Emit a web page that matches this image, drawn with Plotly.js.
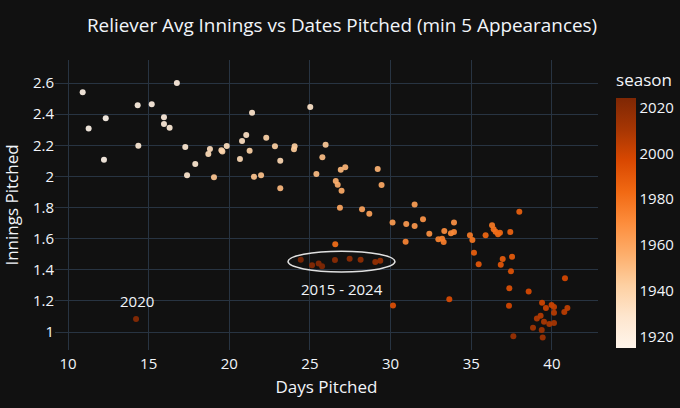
<!DOCTYPE html>
<html>
<head>
<meta charset="utf-8">
<script src="https://cdn.plot.ly/plotly-3.0.1.min.js"></script>
<style>
  html, body { margin: 0; padding: 0; background: #111111; }
  #chart { width: 680px; height: 408px; }
</style>
</head>
<body>
<div id="chart"></div>
<script>
// One point per season: average innings per relief appearance vs. days pitched
const seasons = [
  1915, 1916, 1917, 1918, 1919, 1920, 1921, 1922, 1923, 1924, 1925, 1926, 1927, 1928, 1929,
  1930, 1931, 1932, 1933, 1934, 1935, 1936, 1937, 1938, 1939, 1940, 1941, 1942, 1943, 1944, 1945,
  1946, 1947, 1948, 1949, 1950, 1951, 1952, 1953, 1954, 1955, 1956, 1957, 1958, 1959, 1960,
  1961, 1962, 1963, 1964, 1965, 1966, 1967, 1968, 1969, 1970, 1971, 1972, 1973, 1974, 1975,
  1976, 1977, 1978, 1979, 1980, 1981, 1982, 1983, 1984, 1985, 1986, 1987, 1988, 1989, 1990,
  1991, 1992, 1993, 1994, 1995,
  1996, 1997, 1998, 1999, 2000, 2001, 2002, 2003, 2004, 2005, 2006, 2007, 2008, 2009, 2010,
  2011, 2012, 2013, 2014,
  2015, 2016, 2017, 2018, 2019, 2020, 2021, 2022, 2023, 2024
];

const daysPitched = [
  12.34, 11.28, 12.23, 10.91, 14.32, 15.19, 16.75, 15.95, 15.95, 16.30, 14.36, 17.27, 17.89, 17.38, 21.41,
  25.02, 21.05, 20.79, 19.84, 18.80, 18.70, 20.66, 23.16, 19.51, 19.57, 22.29, 21.26, 22.83, 24.05, 24.01, 25.97,
  19.05, 21.53, 21.97, 25.77, 25.40, 23.16, 26.91, 27.19, 29.20, 26.60, 26.72, 26.96, 29.44, 26.86, 28.23,
  28.68, 31.49, 30.12, 30.97, 31.49, 32.01, 33.93, 32.40, 33.33, 33.74, 33.93, 30.93, 32.96, 33.19, 33.29,
  34.92, 36.29, 35.07, 36.39, 36.51, 26.57, 36.66, 36.78, 35.89, 37.42, 37.98, 35.17, 36.95, 37.53, 35.46,
  36.83, 37.46, 37.36, 30.15, 33.64,
  38.56, 40.81, 37.34, 39.39, 39.98, 39.63, 40.13, 40.96, 40.77, 40.13, 39.30, 39.07, 39.51, 39.84, 40.13,
  38.83, 39.37, 39.43, 37.61,
  29.36, 29.05, 28.14, 27.46, 26.55, 14.22, 25.13, 25.54, 25.75, 24.43
];

const inningsPitched = [
  2.373, 2.307, 2.107, 2.540, 2.457, 2.463, 2.600, 2.380, 2.337, 2.313, 2.197, 2.189, 2.080, 2.007, 2.409,
  2.446, 2.266, 2.227, 2.195, 2.176, 2.144, 2.112, 2.101, 2.168, 2.160, 2.248, 2.164, 2.193, 2.193, 2.174, 2.204,
  1.994, 1.998, 2.007, 2.123, 2.015, 1.923, 2.043, 2.058, 2.048, 1.970, 1.947, 1.907, 1.945, 1.799, 1.789,
  1.760, 1.820, 1.703, 1.694, 1.681, 1.724, 1.703, 1.632, 1.649, 1.634, 1.643, 1.580, 1.596, 1.600, 1.578,
  1.621, 1.686, 1.591, 1.660, 1.645, 1.564, 1.628, 1.638, 1.621, 1.643, 1.773, 1.510, 1.469, 1.484, 1.435,
  1.432, 1.390, 1.281, 1.170, 1.210,
  1.261, 1.345, 1.169, 1.188, 1.174, 1.154, 1.161, 1.154, 1.128, 1.124, 1.105, 1.086, 1.066, 1.051, 1.058,
  1.028, 1.013, 0.965, 0.972,
  1.458, 1.450, 1.465, 1.471, 1.463, 1.084, 1.429, 1.441, 1.422, 1.465
];

// ColorBrewer "Oranges"
const oranges = [
  [0.0, '#fff5eb'], [0.125, '#fee6ce'], [0.25, '#fdd0a2'], [0.375, '#fdae6b'],
  [0.5, '#fd8d3c'], [0.625, '#f16913'], [0.75, '#d94801'], [0.875, '#a63603'], [1.0, '#7f2704']
];

const txt = '#f2f5fa';
const grid = '#283442';

const trace = {
  type: 'scatter',
  mode: 'markers',
  x: daysPitched,
  y: inningsPitched,
  text: seasons,
  hovertemplate: 'season=%{text}<br>days=%{x}<br>innings=%{y}<extra></extra>',
  marker: {
    size: 6,
    color: seasons,
    colorscale: oranges,
    opacity: 0.92,
    line: { width: 0 },
    colorbar: {
      title: { text: 'season', side: 'top', font: { size: 17, color: txt } },
      thickness: 20,
      outlinewidth: 0,
      xref: 'container', x: 0.906, xanchor: 'left', xpad: 0,
      yref: 'paper', y: 0.006, yanchor: 'bottom', ypad: 0,
      lenmode: 'pixels', len: 278,
      tickfont: { size: 15, color: txt },
      tickvals: [1920, 1940, 1960, 1980, 2000, 2020],
      ticks: ''
    }
  },
  showlegend: false
};

const layout = {
  width: 680,
  height: 408,
  paper_bgcolor: '#111111',
  plot_bgcolor: '#111111',
  font: { family: 'Open Sans, sans-serif', color: txt, size: 15 },
  margin: { l: 55, r: 82, t: 60, b: 58 },
  title: {
    text: 'Reliever Avg Innings vs Dates Pitched (min 5 Appearances)',
    x: 0.503, xanchor: 'center', xref: 'container',
    y: 0.953, yref: 'container',
    font: { size: 18.9, color: txt }
  },
  xaxis: {
    title: { text: 'Days Pitched', font: { size: 17, color: txt }, standoff: 9 },
    range: [9.194, 42.858],
    tickvals: [10, 15, 20, 25, 30, 35, 40],
    gridcolor: grid, zeroline: false, showline: false,
    ticklabelstandoff: 3,
    tickfont: { size: 15, color: txt }
  },
  yaxis: {
    title: { text: 'Innings Pitched', font: { size: 17, color: txt }, standoff: 11 },
    range: [0.8843, 2.748],
    tickvals: [1, 1.2, 1.4, 1.6, 1.8, 2, 2.2, 2.4, 2.6],
    ticktext: ['1', '1.2', '1.4', '1.6', '1.8', '2', '2.2', '2.4', '2.6'],
    gridcolor: grid, zeroline: false, showline: false,
    tickfont: { size: 15, color: txt }
  },
  shapes: [{
    type: 'circle', xref: 'x', yref: 'y',
    x0: 23.64, x1: 30.27, y0: 1.386, y1: 1.519,
    line: { color: '#e0e0e0', width: 1.5 }
  }],
  annotations: [
    { x: 14.3, y: 1.2, xref: 'x', yref: 'y', text: '2020', showarrow: false,
      font: { size: 15, color: txt } },
    { x: 27.0, y: 1.276, xref: 'x', yref: 'y', text: '2015 - 2024', showarrow: false,
      font: { size: 15, color: txt } }
  ]
};

Plotly.newPlot('chart', [trace], layout, { displayModeBar: false, staticPlot: true });
</script>
</body>
</html>
